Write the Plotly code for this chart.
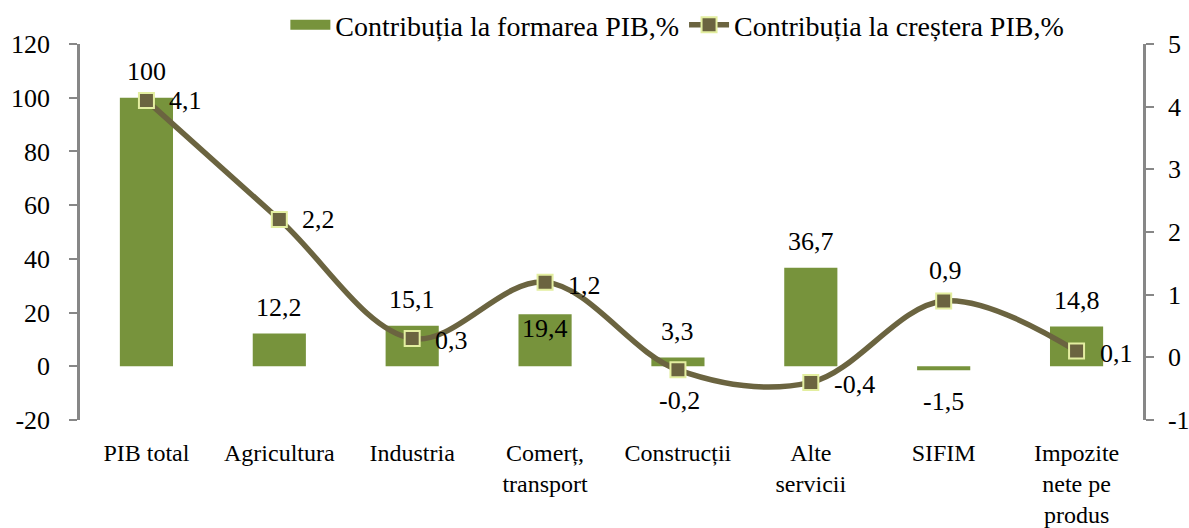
import plotly.graph_objects as go

categories = ["PIB total", "Agricultura", "Industria", "Comerț,<br>transport",
              "Construcții", "Alte<br>servicii", "SIFIM", "Impozite<br>nete pe<br>produs"]
formare = [100, 12.2, 15.1, 19.4, 3.3, 36.7, -1.5, 14.8]
crestere = [4.1, 2.2, 0.3, 1.2, -0.2, -0.4, 0.9, 0.1]
name_bar = "Contribuția la formarea PIB,%"
name_line = "Contribuția la creștera PIB,%"
left_ticks = [-20, 0, 20, 40, 60, 80, 100, 120]
right_ticks = [-1, 0, 1, 2, 3, 4, 5]

FONT = "'Liberation Serif', 'DejaVu Serif', serif"
FS = 26
FS_CAT = 24
FS_LEG = 28
BAR_C = "#77933C"
LINE_C = "#6B6440"
AXIS_C = "#878787"

def fmt(v):
    s = f"{v:g}"
    return s.replace(".", ",")

fig = go.Figure()
# legend proxy for the bars (wide rectangle key, as in the original)
fig.add_trace(go.Scatter(x=[None], y=[None], name=name_bar, mode="lines",
                         line=dict(color=BAR_C, width=14), yaxis="y", legendrank=1))
fig.add_trace(go.Bar(x=categories, y=formare, name=name_bar, marker_color=BAR_C,
                     marker_line_width=0, width=0.4, yaxis="y", showlegend=False))
fig.add_trace(go.Scatter(x=categories, y=crestere, name=name_line, yaxis="y2",
                         mode="lines+markers", legendrank=2,
                         line=dict(color=LINE_C, width=5.5, shape="spline", smoothing=1.0),
                         marker=dict(symbol="square", size=15, color=LINE_C,
                                     line=dict(color="#E3EEA0", width=2))))

bar_shift = [26, 26, 26, -14, 26, 26, -31, 26]
for c, v, s in zip(categories, formare, bar_shift):
    fig.add_annotation(x=c, y=v, yref="y", text=fmt(v), showarrow=False,
                       yanchor="middle", yshift=s, font=dict(family=FONT, size=FS, color="black"))

line_pos = ["r", "r", "r", "r", "b", "r", "t", "r"]
line_dy = [0, 0, -2, -3, 0, -2, 0, -2]
for c, v, p, dy in zip(categories, crestere, line_pos, line_dy):
    if p == "r":
        fig.add_annotation(x=c, y=v, yref="y2", text=fmt(v), showarrow=False,
                           xanchor="left", yanchor="middle", xshift=21, yshift=dy,
                           font=dict(family=FONT, size=FS, color="black"))
    else:
        fig.add_annotation(x=c, y=v, yref="y2", text=fmt(v), showarrow=False,
                           xanchor="center", yanchor="middle", xshift=2,
                           yshift=(30 if p == "t" else -31),
                           font=dict(family=FONT, size=FS, color="black"))

fig.update_layout(
    width=1189, height=528,
    margin=dict(l=80, r=46, t=44, b=108, autoexpand=False),
    paper_bgcolor="white", plot_bgcolor="white",
    font=dict(family=FONT, size=FS, color="black"),
    showlegend=True,
    legend=dict(orientation="h", xref="container", yref="container",
                x=0.24, xanchor="left", y=1.0, yanchor="top",
                font=dict(family=FONT, size=FS_LEG, color="black"),
                bgcolor="rgba(0,0,0,0)", itemwidth=40, tracegroupgap=0),
    xaxis=dict(type="category", range=[-0.5, 7.5], showline=False, showgrid=False,
               zeroline=False, ticks="", tickfont=dict(family=FONT, size=FS_CAT),
               ticklabelstandoff=16),
    xaxis2=dict(overlaying="x", anchor="free", position=1/7, range=[-0.5, 7.5],
                showline=True, linecolor=AXIS_C, linewidth=2.5, ticks="outside",
                ticklen=8, tickwidth=2, tickcolor=AXIS_C,
                tickvals=[0.5, 1.5, 2.5, 3.5, 4.5, 5.5, 6.5], showticklabels=False,
                showgrid=False, zeroline=False, layer="below traces"),
    yaxis=dict(range=[-20, 120], tickvals=left_ticks, ticktext=[str(t) for t in left_ticks],
               showgrid=False, zeroline=False,
               showline=True, linecolor=AXIS_C, linewidth=2.5, ticks="outside",
               ticklen=8, tickwidth=2, tickcolor=AXIS_C, ticklabelstandoff=14,
               tickfont=dict(family=FONT, size=FS)),
    yaxis2=dict(range=[-1, 5], tickvals=right_ticks, ticktext=[str(t) for t in right_ticks],
                overlaying="y", side="right",
                showgrid=False, zeroline=False, showline=True, linecolor=AXIS_C,
                linewidth=2.5, ticks="outside", ticklen=8, tickwidth=2, tickcolor=AXIS_C,
                ticklabelstandoff=9, tickfont=dict(family=FONT, size=FS)),
)

fig.write_html("out.html", config={"displayModeBar": False},
               post_script="document.body.style.margin='0';document.body.style.padding='0';")
